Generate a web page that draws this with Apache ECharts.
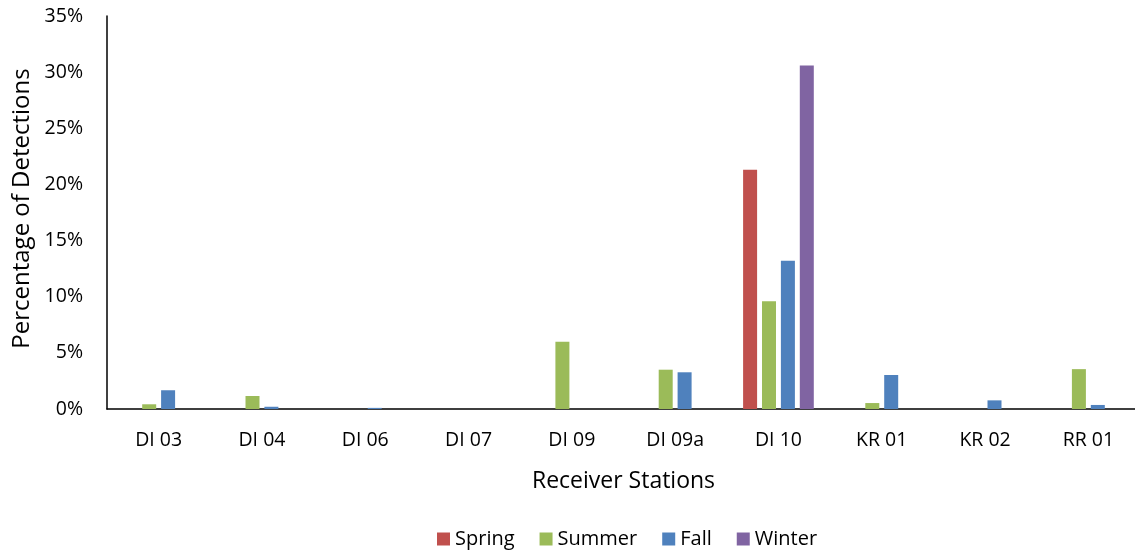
<!DOCTYPE html>
<html><head><meta charset="utf-8">
<script src="https://cdn.jsdelivr.net/npm/echarts@6/dist/echarts.min.js"></script>
<style>html,body{margin:0;padding:0;background:#fff}#c{width:1135px;height:557px}</style>
</head><body><div id="c"></div>
<script>
const categories = ['DI 03','DI 04','DI 06','DI 07','DI 09','DI 09a','DI 10','KR 01','KR 02','RR 01'];
const spring = [0, 0, 0, 0, 0, 0, 21.3, 0, 0, 0];
const summer = [0.42, 1.16, 0, 0, 6.0, 3.5, 9.6, 0.53, 0, 3.55];
const fall   = [1.67, 0.2, 0.1, 0, 0, 3.27, 13.2, 3.03, 0.77, 0.36];
const winter = [0, 0, 0, 0, 0, 0, 30.6, 0, 0, 0];
const yTicks = {min: 0, max: 35, interval: 5};

const font = '"Open Sans", sans-serif';
const chart = echarts.init(document.getElementById('c'), null, {renderer: 'canvas'});
function s(name, data, color) {
  return {name, type: 'bar', data, barWidth: 14, barGap: '35%',
    itemStyle: {color}, emphasis: {disabled: true}};
}
chart.setOption({
  animation: false,
  textStyle: {fontFamily: font},
  grid: {left: 107, right: -5, top: 16, bottom: 148, containLabel: false, outerBoundsMode: 'none'},
  legend: {
    bottom: 3, left: 432, itemWidth: 13, itemHeight: 13, itemGap: 25, icon: 'rect',
    textStyle: {fontFamily: font, fontSize: 20, color: '#000'},
    data: ['Spring','Summer','Fall','Winter']
  },
  xAxis: {
    type: 'category', data: categories,
    name: 'Receiver Stations', nameLocation: 'middle', nameGap: 61,
    nameTextStyle: {fontFamily: font, fontSize: 23, color: '#000'},
    axisLine: {lineStyle: {color: '#000', width: 1.5}},
    axisTick: {show: false},
    axisLabel: {fontFamily: font, fontSize: 19.5, color: '#000', margin: 21}
  },
  yAxis: {
    type: 'value', min: yTicks.min, max: yTicks.max, interval: yTicks.interval,
    name: 'Percentage of Detections', nameLocation: 'middle', nameGap: 72,
    nameTextStyle: {fontFamily: font, fontSize: 24, color: '#000', padding: [0, 0, 0, 8]},
    axisLine: {show: true, lineStyle: {color: '#000', width: 1.5}},
    axisTick: {show: false},
    splitLine: {show: false},
    axisLabel: {fontFamily: font, fontSize: 19.5, color: '#000', margin: 24, formatter: '{value}%'}
  },
  series: [
    s('Spring', spring, '#c0504d'),
    s('Summer', summer, '#9bbb59'),
    s('Fall', fall, '#4f81bd'),
    s('Winter', winter, '#8064a2')
  ]
});
</script></body></html>
